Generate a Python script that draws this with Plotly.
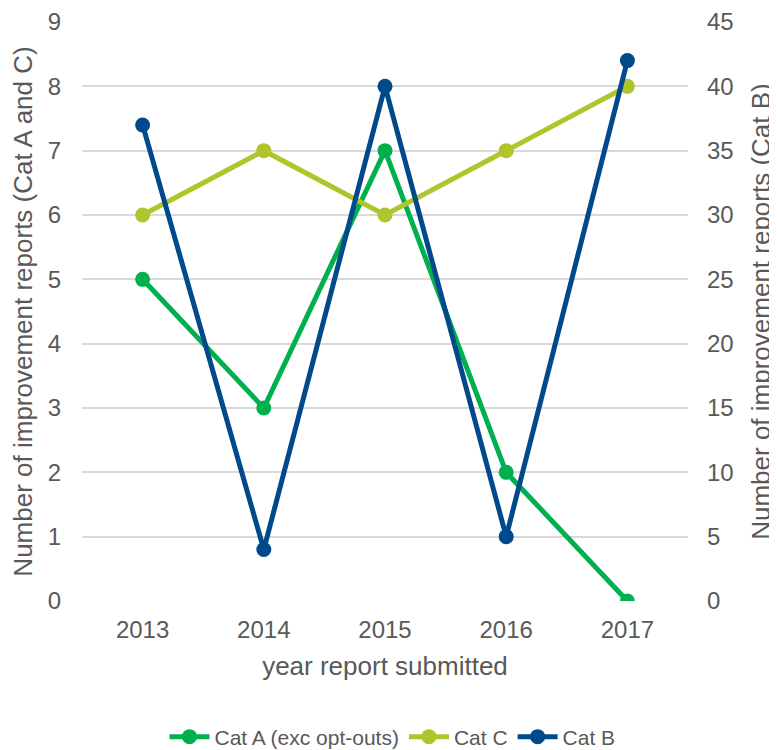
import plotly.graph_objects as go

years = ["2013", "2014", "2015", "2016", "2017"]
cat_a = [5, 3, 7, 2, 0]
cat_c = [6, 7, 6, 7, 8]
cat_b = [37, 4, 40, 5, 42]

FONT = "Liberation Sans, Arial, sans-serif"
TXT = "#595959"
LW = 5
MS = 15

fig = go.Figure()
fig.add_trace(go.Scatter(x=years, y=cat_a, name="Cat A (exc opt-outs)", mode="lines+markers",
                         line=dict(color="#00B04F", width=LW), marker=dict(size=MS, color="#00B04F"),
                         legendrank=1))
fig.add_trace(go.Scatter(x=years, y=cat_c, name="Cat C", mode="lines+markers",
                         line=dict(color="#AFC52B", width=LW), marker=dict(size=MS, color="#AFC52B"),
                         legendrank=2))
fig.add_trace(go.Scatter(x=years, y=cat_b, name="Cat B", mode="lines+markers", yaxis="y2",
                         line=dict(color="#004A8B", width=LW), marker=dict(size=MS, color="#004A8B"),
                         legendrank=3))

# page body has an 8px default margin, so the figure is 8px smaller and margins shifted
fig.update_layout(
    width=769, height=742,
    margin=dict(l=74, r=89, t=14, b=149),
    plot_bgcolor="white", paper_bgcolor="white",
    font=dict(family=FONT, color=TXT, size=24),
    xaxis=dict(type="category", range=[-0.5, 4.5], automargin=False,
               showgrid=False, showline=False, zeroline=False,
               tickfont=dict(size=24, color=TXT), ticks="", ticklabelstandoff=12,
               title=dict(text="year report submitted", font=dict(size=26, color=TXT), standoff=14)),
    yaxis=dict(range=[0, 9], dtick=1, automargin=False, showgrid=True, gridcolor="#D9D9D9", gridwidth=1.5,
               zeroline=False, showline=False, ticks="", ticklabelstandoff=20,
               tickfont=dict(size=24, color=TXT),
               title=dict(text="Number of improvement reports (Cat A and C)",
                          font=dict(size=26, color=TXT), standoff=11)),
    yaxis2=dict(range=[0, 45], dtick=5, overlaying="y", side="right", automargin=False, showgrid=False,
                zeroline=False, showline=False, ticks="", ticklabelstandoff=18,
                tickfont=dict(size=24, color=TXT),
                title=dict(text="Number of improvement reports (Cat B)",
                           font=dict(size=26, color=TXT), standoff=19)),
    legend=dict(orientation="h", x=0.5, xanchor="center", xref="container",
                y=0.0175, yanchor="middle", yref="container",
                font=dict(size=21, color=TXT), traceorder="normal", itemwidth=40),
    showlegend=True,
)

fig.write_html("out.html")
